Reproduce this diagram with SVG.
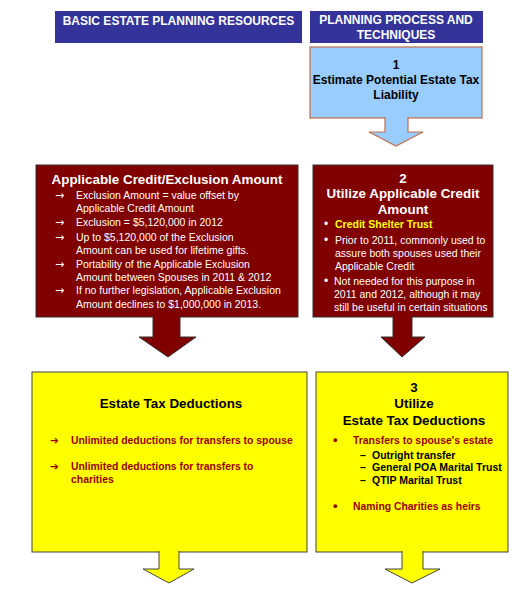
<svg xmlns="http://www.w3.org/2000/svg" width="529" height="600" viewBox="0 0 529 600">
<style>
text{font-family:"Liberation Sans",Arial,sans-serif}
.hdr{fill:#333399}
.hdrt{fill:#fff;font-weight:bold;font-size:12px;text-anchor:middle}
.blue{fill:#99ccff;stroke:#c07050;stroke-width:1.2}
.red{fill:#800000;stroke:#333;stroke-width:1}
.yel{fill:#ffff00;stroke:#444;stroke-width:1}
.ttlw{fill:#fff;font-weight:bold;font-size:13.4px;text-anchor:middle}
.ttlk{fill:#000;font-weight:bold;font-size:13.4px;text-anchor:middle}
.bw{fill:#fff;font-size:10.5px}
.arr{font-family:"DejaVu Sans",sans-serif;font-size:11px}
.bk{fill:#000;font-weight:bold;font-size:10.5px}
.br{fill:#990000;font-weight:bold;font-size:10.4px}
.sym{font-family:"DejaVu Sans",sans-serif}
</style>
<g id="header-resources">
<rect class="hdr" x="55" y="11" width="247" height="32"/>
<text class="hdrt" x="178.5" y="25">BASIC ESTATE PLANNING RESOURCES</text>
</g>
<g id="header-process">
<rect class="hdr" x="310" y="11" width="173" height="32"/>
<text class="hdrt" x="396" y="24">PLANNING PROCESS AND</text>
<text class="hdrt" x="396" y="39">TECHNIQUES</text>
</g>
<g id="step1">
<rect class="blue" x="310" y="47" width="172" height="71"/>
<text class="ttlk" x="396" y="69" style="font-size:12px">1</text>
<text class="ttlk" x="396" y="84" style="font-size:12px">Estimate Potential Estate Tax</text>
<text class="ttlk" x="396" y="99" style="font-size:12px">Liability</text>
</g>
<g id="applicable-credit">
<rect class="red" x="36" y="165" width="262" height="152"/>
<text class="ttlw" x="167" y="184">Applicable Credit/Exclusion Amount</text>
<g class="bw">
<text class="arr" x="55" y="199">→</text><text x="76" y="199">Exclusion Amount = value offset by</text>
<text x="76" y="212">Applicable Credit Amount</text>
<text class="arr" x="55" y="226">→</text><text x="76" y="226">Exclusion =  $5,120,000 in 2012</text>
<text class="arr" x="55" y="241">→</text><text x="76" y="241">Up to $5,120,000  of the Exclusion</text>
<text x="76" y="254">Amount can be used for lifetime gifts.</text>
<text class="arr" x="55" y="268">→</text><text x="76" y="268">Portability of the Applicable Exclusion</text>
<text x="76" y="281">Amount between Spouses in 2011 &amp; 2012</text>
<text class="arr" x="55" y="294">→</text><text x="76" y="294">If no further legislation, Applicable Exclusion</text>
<text x="76" y="308">Amount declines to $1,000,000 in 2013.</text>
</g>
</g>
<g id="step2">
<rect class="red" x="313" y="165" width="180" height="152"/>
<text class="ttlw" x="403" y="183">2</text>
<text class="ttlw" x="403" y="198">Utilize Applicable Credit</text>
<text class="ttlw" x="403" y="214">Amount</text>
<g class="bw">
<text x="324" y="228" style="font-size:12px">•</text><text x="335" y="228" style="fill:#ffff00;font-weight:bold">Credit Shelter Trust</text>
<text x="324" y="244" style="font-size:12px">•</text><text x="335" y="244">Prior to 2011, commonly used to</text>
<text x="335" y="257">assure both spouses used their</text>
<text x="335" y="270">Applicable Credit</text>
<text x="324" y="285" style="font-size:12px">•</text><text x="334" y="285">Not needed for this purpose in</text>
<text x="334" y="298">2011 and 2012, although it may</text>
<text x="334" y="311">still be useful in certain situations</text>
</g>
</g>
<g id="estate-tax-deductions">
<rect class="yel" x="32" y="372" width="275" height="180"/>
<text class="ttlk" x="171" y="408">Estate Tax Deductions</text>
<text class="br sym" x="50" y="444" style="font-size:10.5px">➔</text><text class="br" x="71" y="444">Unlimited deductions for transfers to spouse</text>
<text class="br sym" x="50" y="470" style="font-size:10.5px">➔</text><text class="br" x="71" y="470">Unlimited deductions for transfers to</text>
<text class="br" x="71" y="483">charities</text>
</g>
<g id="step3">
<rect class="yel" x="316" y="372" width="192" height="180"/>
<text class="ttlk" x="414" y="392">3</text>
<text class="ttlk" x="414" y="408">Utilize</text>
<text class="ttlk" x="414" y="425">Estate Tax Deductions</text>
<text class="br" x="333" y="444" style="font-size:13px">•</text><text class="br" x="353" y="444">Transfers to spouse's estate</text>
<text class="bk" x="360" y="459">–</text><text class="bk" x="372" y="459">Outright transfer</text>
<text class="bk" x="360" y="471">–</text><text class="bk" x="372" y="471">General POA Marital Trust</text>
<text class="bk" x="360" y="484">–</text><text class="bk" x="372" y="484">QTIP Marital Trust</text>
<text class="br" x="333" y="510" style="font-size:13px">•</text><text class="br" x="353" y="510">Naming Charities as heirs</text>
</g>
<g id="connectors">
<path class="blue" d="M385,117 V132 H369 L396,146 L423,132 H408 V117"/>
<path class="red" d="M153,316 V337 H139 L168,357 L196,337 H180 V316"/>
<path class="red" d="M393,316 V337 H381 L402,357 L425,337 H412 V316"/>
<path class="yel" d="M159,551 V569 H143 L169,583 L194,569 H179 V551"/>
<path class="yel" d="M402,551 V569 H385 L412,583 L440,569 H423 V551"/>
</g>
</svg>
